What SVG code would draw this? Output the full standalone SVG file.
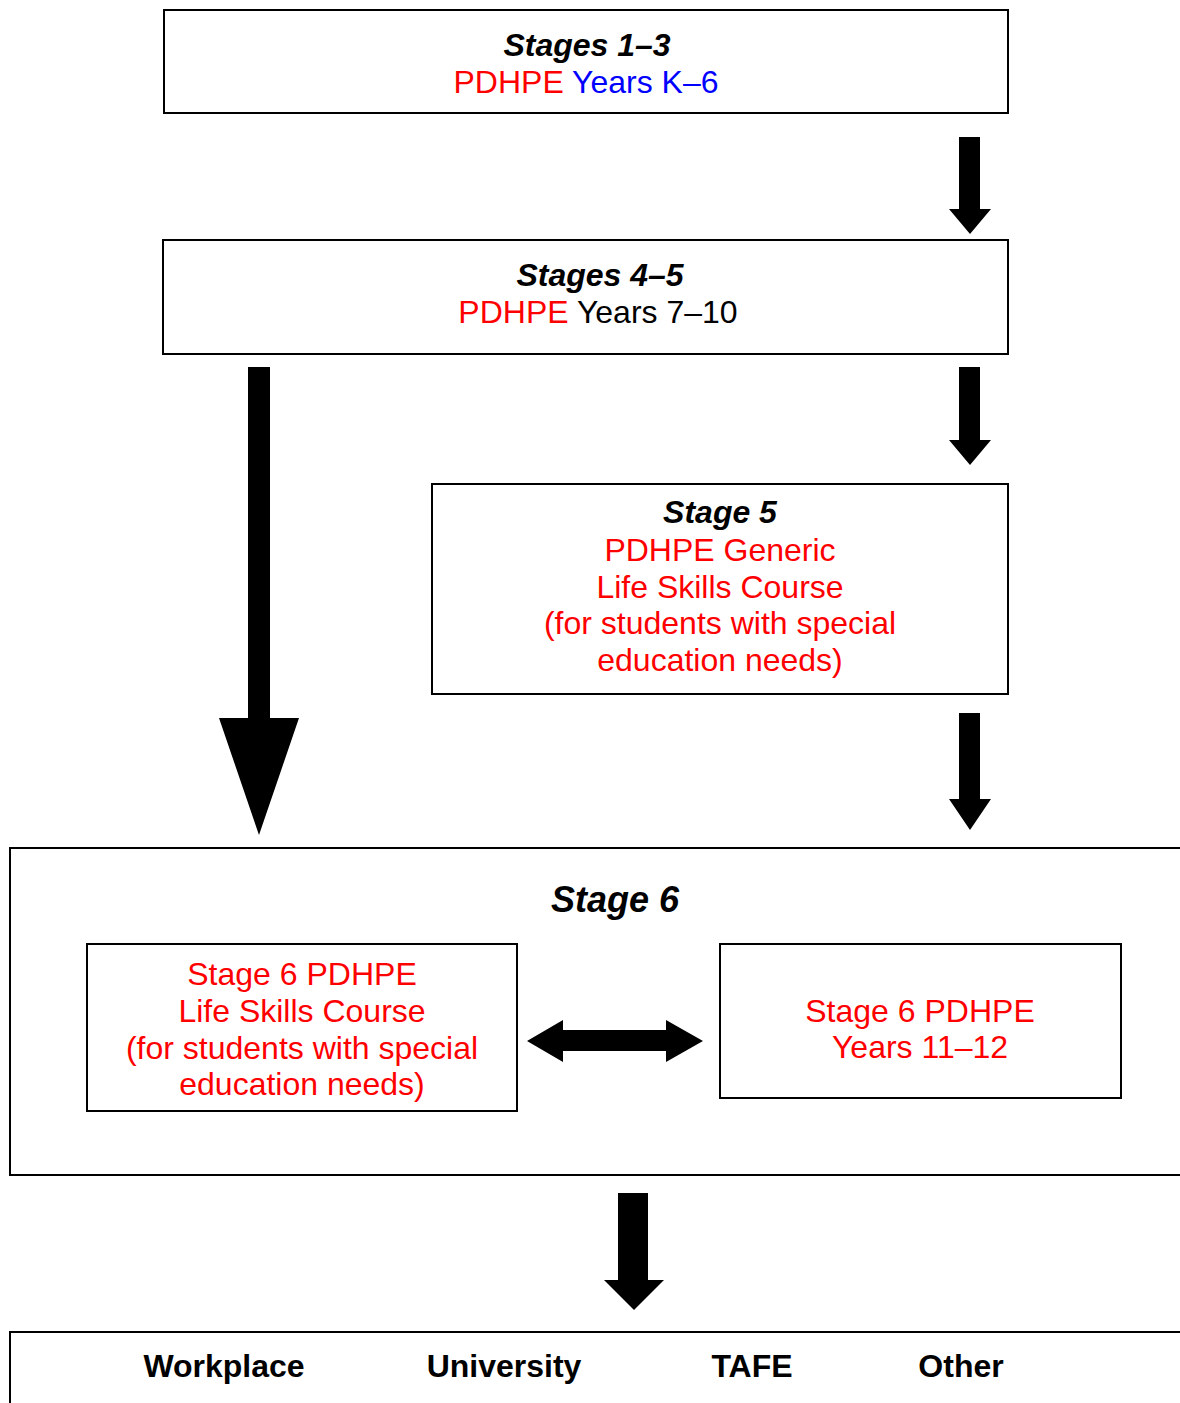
<svg xmlns="http://www.w3.org/2000/svg" width="1180" height="1403" viewBox="0 0 1180 1403">
<style>
.box{fill:#fff;stroke:#000;stroke-width:2}
.t{font-family:"Liberation Sans",Arial,sans-serif;font-size:32px;text-anchor:middle}
.h{font-weight:bold;font-style:italic;fill:#000}
.r{fill:#ff0000}
.b{fill:#0000ff}
.k{fill:#000}
.lab{font-weight:bold;fill:#000}
.arr{fill:#000}
</style>
<rect width="1180" height="1403" fill="#fff"/>
<g id="stage6-outer">
<rect class="box" x="10" y="848" width="1190" height="327"/>
<text class="t h" x="615" y="912" style="font-size:36px">Stage 6</text>
</g>
<g id="stages1-3">
<rect class="box" x="164" y="10" width="844" height="103"/>
<text class="t h" x="587" y="56">Stages 1–3</text>
<text class="t" x="586" y="93"><tspan class="r">PDHPE</tspan> <tspan class="b">Years K–6</tspan></text>
</g>
<g id="stages4-5">
<rect class="box" x="163" y="240" width="845" height="114"/>
<text class="t h" x="600" y="286">Stages 4–5</text>
<text class="t" x="598" y="323"><tspan class="r">PDHPE</tspan> <tspan class="k">Years 7–10</tspan></text>
</g>
<g id="stage5">
<rect class="box" x="432" y="484" width="576" height="210"/>
<text class="t h" x="720" y="523">Stage 5</text>
<text class="t r" x="720" y="561">PDHPE Generic</text>
<text class="t r" x="720" y="598">Life Skills Course</text>
<text class="t r" x="720" y="634">(for students with special</text>
<text class="t r" x="720" y="671">education needs)</text>
</g>
<g id="stage6-lifeskills">
<rect class="box" x="87" y="944" width="430" height="167"/>
<text class="t r" x="302" y="985">Stage 6 PDHPE</text>
<text class="t r" x="302" y="1022">Life Skills Course</text>
<text class="t r" x="302" y="1059">(for students with special</text>
<text class="t r" x="302" y="1095">education needs)</text>
</g>
<g id="stage6-years">
<rect class="box" x="720" y="944" width="401" height="154"/>
<text class="t r" x="920" y="1022">Stage 6 PDHPE</text>
<text class="t r" x="920" y="1058">Years 11–12</text>
</g>
<g id="destinations">
<rect class="box" x="10" y="1332" width="1190" height="100"/>
<text class="t lab" x="224" y="1377">Workplace</text>
<text class="t lab" x="504" y="1377">University</text>
<text class="t lab" x="752" y="1377">TAFE</text>
<text class="t lab" x="961" y="1377">Other</text>
</g>
<g id="connectors">
<polygon class="arr" points="959,137 980,137 980,209 991,209 970,234 949,209 959,209"/>
<polygon class="arr" points="959,367 980,367 980,440 991,440 970,465 949,440 959,440"/>
<polygon class="arr" points="959,713 980,713 980,799 991,799 970,830 949,799 959,799"/>
<polygon class="arr" points="248,367 270,367 270,718 299,718 259,835 219,718 248,718"/>
<polygon class="arr" points="527,1041 563,1020 563,1030 666,1030 666,1020 703,1041 666,1062 666,1051 563,1051 563,1062"/>
<polygon class="arr" points="618,1193 648,1193 648,1280 664,1280 634,1310 604,1280 618,1280"/>
</g>
</svg>
